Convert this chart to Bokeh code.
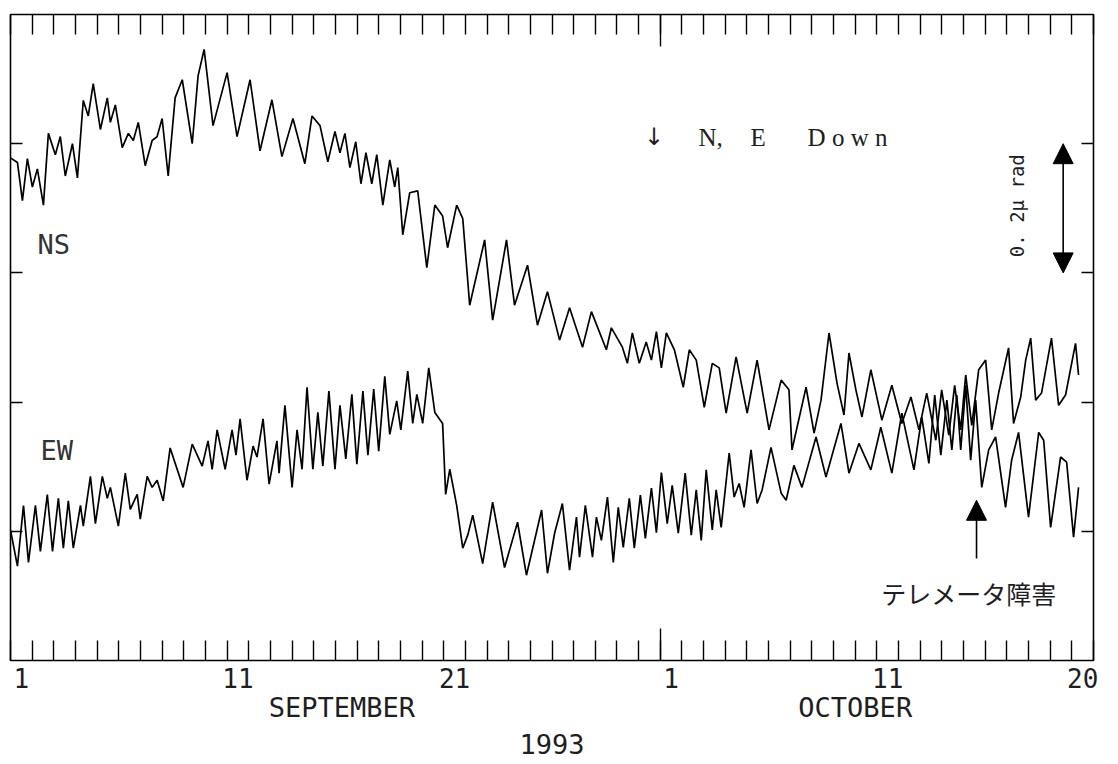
import math
from bokeh.plotting import figure
from bokeh.models import Range1d, LinearAxis, FixedTicker, Arrow, NormalHead
from bokeh.embed import file_html
from bokeh.resources import INLINE
from bokeh.core.properties import value

# ---------------- data (time = days since 1993-09-01 00:00, tilt in micro-radian) -------------
ns_day = [0.00, 0.32, 0.55, 0.78, 1.01, 1.24, 1.52, 1.75, 2.07, 2.30,
          2.53, 2.86, 3.09, 3.36, 3.59, 3.82, 4.15, 4.47, 4.61, 4.84,
          5.16, 5.44, 5.67, 5.90, 6.22, 6.54, 6.77, 7.00, 7.28, 7.60,
          7.93, 8.39, 8.66, 8.94, 9.35, 10.00, 10.46, 11.06, 11.52, 12.07,
          12.53, 13.04, 13.59, 13.92, 14.29, 14.65, 14.98, 15.21, 15.44, 15.67,
          15.94, 16.18, 16.41, 16.68, 16.91, 17.19, 17.51, 17.74, 17.88, 18.11,
          18.43, 18.80, 19.22, 19.59, 19.95, 20.18, 20.60, 20.88, 21.20, 21.89,
          22.26, 22.90, 23.27, 23.87, 24.33, 24.79, 25.35, 25.81, 26.41, 26.82,
          27.51, 27.74, 28.25, 28.48, 28.71, 29.03, 29.35, 29.59, 29.82, 30.05,
          30.28, 30.65, 31.06, 31.34, 31.66, 32.03, 32.40, 32.72, 33.04, 33.50,
          34.01, 34.47, 35.02, 35.58, 35.94, 36.08, 36.73, 37.10, 37.42, 37.79,
          38.16, 38.48, 38.71, 39.03, 39.31, 39.72, 40.23, 40.69, 41.15, 41.57,
          41.94, 42.30, 42.72, 42.99, 43.32, 43.59, 43.87, 44.10, 44.38, 44.70,
          45.02, 45.30, 45.62, 46.08, 46.31, 46.64, 46.87, 47.10, 47.33, 47.60,
          48.06, 48.39, 48.71, 49.17, 49.31]
ns_tilt = [0.778, 0.771, 0.712, 0.777, 0.733, 0.761, 0.705, 0.816, 0.783, 0.811,
           0.750, 0.800, 0.747, 0.867, 0.843, 0.893, 0.822, 0.871, 0.833, 0.860,
           0.794, 0.816, 0.805, 0.833, 0.766, 0.805, 0.811, 0.839, 0.750, 0.871,
           0.899, 0.800, 0.905, 0.946, 0.828, 0.910, 0.811, 0.899, 0.789, 0.868,
           0.780, 0.839, 0.769, 0.843, 0.828, 0.772, 0.819, 0.786, 0.816, 0.763,
           0.803, 0.738, 0.786, 0.738, 0.783, 0.705, 0.775, 0.733, 0.763, 0.659,
           0.724, 0.727, 0.608, 0.705, 0.688, 0.639, 0.705, 0.684, 0.550, 0.651,
           0.527, 0.651, 0.550, 0.612, 0.519, 0.571, 0.496, 0.546, 0.485, 0.540,
           0.481, 0.515, 0.485, 0.460, 0.507, 0.460, 0.493, 0.465, 0.509, 0.453,
           0.507, 0.481, 0.423, 0.481, 0.465, 0.392, 0.460, 0.453, 0.383, 0.470,
           0.383, 0.465, 0.357, 0.434, 0.419, 0.326, 0.423, 0.352, 0.403, 0.507,
           0.429, 0.380, 0.476, 0.419, 0.377, 0.450, 0.372, 0.426, 0.367, 0.408,
           0.357, 0.414, 0.341, 0.419, 0.349, 0.426, 0.357, 0.442, 0.364, 0.450,
           0.465, 0.357, 0.414, 0.484, 0.367, 0.408, 0.465, 0.499, 0.403, 0.414,
           0.499, 0.395, 0.411, 0.491, 0.442]

ew_day = [0.00, 0.32, 0.60, 0.83, 1.15, 1.38, 1.70, 1.94, 2.21, 2.44,
          2.67, 2.90, 3.23, 3.36, 3.69, 3.92, 4.24, 4.47, 4.61, 4.98,
          5.30, 5.53, 5.85, 5.99, 6.31, 6.54, 6.77, 7.05, 7.37, 7.97,
          8.39, 8.85, 9.12, 9.31, 9.54, 9.91, 10.23, 10.41, 10.60, 10.92,
          11.20, 11.38, 11.66, 11.94, 12.30, 12.40, 12.67, 13.00, 13.23, 13.46,
          13.69, 13.96, 14.19, 14.42, 14.70, 14.98, 15.21, 15.48, 15.76, 15.99,
          16.27, 16.50, 16.77, 17.00, 17.28, 17.51, 17.83, 18.02, 18.34, 18.57,
          18.76, 19.03, 19.31, 19.59, 19.95, 20.09, 20.28, 20.60, 20.88, 21.11,
          21.34, 21.80, 22.26, 22.81, 23.41, 23.82, 24.52, 24.79, 25.12, 25.48,
          25.81, 26.13, 26.27, 26.54, 26.87, 27.05, 27.28, 27.56, 27.83, 28.06,
          28.29, 28.57, 28.80, 29.08, 29.31, 29.59, 29.82, 30.05, 30.32, 30.55,
          30.83, 31.15, 31.43, 31.66, 31.89, 32.12, 32.40, 32.58, 32.81, 33.18,
          33.41, 33.64, 33.87, 34.19, 34.47, 34.70, 35.11, 35.58, 35.81, 36.17,
          36.54, 37.19, 37.65, 38.34, 38.71, 39.17, 39.72, 40.18, 40.69, 41.15,
          41.71, 42.07, 42.40, 42.67, 42.95, 43.23, 43.46, 43.69, 43.87, 44.10,
          44.33, 44.56, 44.84, 45.16, 45.48, 45.94, 46.22, 46.54, 47.00, 47.47,
          47.70, 48.02, 48.48, 48.76, 49.08, 49.31]
ew_tilt = [0.202, 0.146, 0.240, 0.152, 0.240, 0.169, 0.257, 0.169, 0.251, 0.174,
           0.247, 0.174, 0.240, 0.208, 0.285, 0.212, 0.285, 0.251, 0.268, 0.208,
           0.290, 0.234, 0.257, 0.219, 0.285, 0.268, 0.279, 0.247, 0.329, 0.268,
           0.335, 0.301, 0.340, 0.296, 0.357, 0.296, 0.357, 0.318, 0.374, 0.279,
           0.332, 0.315, 0.374, 0.273, 0.340, 0.290, 0.395, 0.268, 0.357, 0.296,
           0.423, 0.296, 0.384, 0.301, 0.417, 0.296, 0.395, 0.312, 0.412, 0.304,
           0.417, 0.318, 0.420, 0.324, 0.440, 0.350, 0.402, 0.357, 0.448, 0.367,
           0.412, 0.367, 0.453, 0.384, 0.367, 0.257, 0.296, 0.240, 0.174, 0.194,
           0.225, 0.150, 0.245, 0.144, 0.214, 0.132, 0.233, 0.135, 0.197, 0.243,
           0.140, 0.222, 0.160, 0.240, 0.160, 0.222, 0.186, 0.253, 0.152, 0.237,
           0.175, 0.251, 0.174, 0.256, 0.189, 0.267, 0.198, 0.291, 0.212, 0.271,
           0.197, 0.290, 0.194, 0.264, 0.186, 0.295, 0.202, 0.264, 0.206, 0.321,
           0.253, 0.274, 0.237, 0.326, 0.243, 0.264, 0.330, 0.259, 0.248, 0.302,
           0.268, 0.346, 0.284, 0.367, 0.290, 0.336, 0.295, 0.361, 0.290, 0.383,
           0.295, 0.377, 0.305, 0.411, 0.318, 0.403, 0.326, 0.411, 0.326, 0.426,
           0.310, 0.403, 0.268, 0.326, 0.346, 0.237, 0.310, 0.353, 0.222, 0.353,
           0.341, 0.206, 0.315, 0.307, 0.191, 0.268]

# axis / labels
n_days = 50                                   # 1 Sep .. 20 Oct (inclusive)
month_start_ticks = [30]                      # 1 October
day_label_pos = [0.5, 10.5, 20.5, 30.5, 40.5, 49.5]
day_labels = ["1", "11", "21", "1", "11", "20"]
month_label_pos = [15.3, 39.0]
month_labels = ["SEPTEMBER", "OCTOBER"]
year_label = "1993"
tilt_ticks = [0.2, 0.4, 0.6, 0.8]

series_labels = ["NS", "EW"]
series_label_day = [1.25, 1.39]
series_label_tilt = [0.644, 0.325]

arrow_note = "↓"
arrow_note_day = 29.25
note_texts = ["N,", "E", "D  o  w  n"]
note_day = [31.76, 34.16, 36.8]
note_tilt = [0.81, 0.81, 0.81]

scale_bar_day = 48.6
scale_bar_base = 0.6
scale_bar_len = 0.2          # 0.2 micro-radian
scale_text = "0. 2μ rad"
scale_text_day = 46.49
scale_text_tilt = 0.704

fault_day = 44.6
fault_arrow_from = 0.158
fault_arrow_to = 0.248
fault_text = "テレメータ障害"
fault_text_day = 40.2
fault_text_tilt = 0.104

MONO = "DejaVu Sans Mono"
INK = "#1e1e1e"

p = figure(frame_width=1083, frame_height=646,
           x_range=Range1d(0, n_days), y_range=Range1d(0, 1.0),
           x_axis_type=None, y_axis_type=None,
           output_backend="svg", toolbar_location=None,
           min_border_left=10, min_border_right=17, min_border_top=14, min_border_bottom=102)
p.outline_line_color = "black"
p.outline_line_width = 1.6
p.background_fill_color = "white"
p.border_fill_color = "white"


def tick_axis(ticks, minor, major_in, minor_in):
    return LinearAxis(
        ticker=FixedTicker(ticks=ticks, minor_ticks=minor),
        major_tick_in=major_in, major_tick_out=0,
        minor_tick_in=minor_in, minor_tick_out=0,
        major_tick_line_color="black", minor_tick_line_color="black",
        major_tick_line_width=1.4, minor_tick_line_width=1.4,
        axis_line_color=None,
        major_label_overrides={t: "" for t in ticks},
        major_label_text_font_size="0px", major_label_standoff=0)


days_minor = list(range(0, n_days + 1))
p.add_layout(tick_axis(month_start_ticks, days_minor, 32, 20), "below")
p.add_layout(tick_axis(month_start_ticks, days_minor, 32, 20), "above")
p.add_layout(tick_axis(tilt_ticks, [], 12, 0), "left")
p.add_layout(tick_axis(tilt_ticks, [], 12, 0), "right")

day_axis = LinearAxis(
    ticker=FixedTicker(ticks=day_label_pos, minor_ticks=[]),
    major_label_overrides={pos: lab for pos, lab in zip(day_label_pos, day_labels)},
    major_tick_in=0, major_tick_out=0, major_tick_line_color=None, minor_tick_line_color=None,
    axis_line_color=None, major_label_standoff=7,
    major_label_text_font=MONO, major_label_text_font_size="26px", major_label_text_color=INK)
p.add_layout(day_axis, "below")

month_axis = LinearAxis(
    ticker=FixedTicker(ticks=month_label_pos, minor_ticks=[]),
    major_label_overrides={pos: lab for pos, lab in zip(month_label_pos, month_labels)},
    major_tick_in=0, major_tick_out=0, major_tick_line_color=None, minor_tick_line_color=None,
    axis_line_color=None, major_label_standoff=1,
    major_label_text_font=MONO, major_label_text_font_size="27px", major_label_text_color=INK,
    axis_label=year_label, axis_label_standoff=8,
    axis_label_text_font=MONO, axis_label_text_font_size="27px",
    axis_label_text_font_style="normal", axis_label_text_color=INK)
p.add_layout(month_axis, "below")

# traces
p.line(ns_day, ns_tilt, line_color="black", line_width=1.7)
p.line(ew_day, ew_tilt, line_color="black", line_width=1.7)

# texts
p.text(x=series_label_day, y=series_label_tilt, text=series_labels,
       text_font=value(MONO), text_font_size="27px", text_color="#333333",
       text_baseline="alphabetic")
p.text(x=[arrow_note_day], y=[note_tilt[0]], text=[arrow_note],
       text_font=value("DejaVu Sans"), text_font_size="24px", text_color=INK,
       text_baseline="alphabetic")
p.text(x=note_day, y=note_tilt, text=note_texts,
       text_font=value("Liberation Serif"), text_font_size="25px", text_color=INK,
       text_baseline="alphabetic")
p.text(x=[scale_text_day], y=[scale_text_tilt], text=[scale_text], angle=math.pi / 2,
       text_font=value(MONO), text_font_size="19px", text_color=INK,
       text_align="center", text_baseline="middle")
p.text(x=[fault_text_day], y=[fault_text_tilt], text=[fault_text],
       text_font=value("Noto Sans CJK JP"), text_font_size="25px", text_color=INK,
       text_baseline="alphabetic")

# arrows
p.add_layout(Arrow(start=NormalHead(size=20, fill_color="black", line_color="black"),
                   end=NormalHead(size=20, fill_color="black", line_color="black"),
                   x_start=scale_bar_day, y_start=scale_bar_base,
                   x_end=scale_bar_day, y_end=scale_bar_base + scale_bar_len,
                   line_color="black", line_width=1.6))
p.add_layout(Arrow(end=NormalHead(size=20, fill_color="black", line_color="black"),
                   x_start=fault_day, y_start=fault_arrow_from,
                   x_end=fault_day, y_end=fault_arrow_to,
                   line_color="black", line_width=1.6))

open("out.html", "w").write(file_html(p, INLINE))
